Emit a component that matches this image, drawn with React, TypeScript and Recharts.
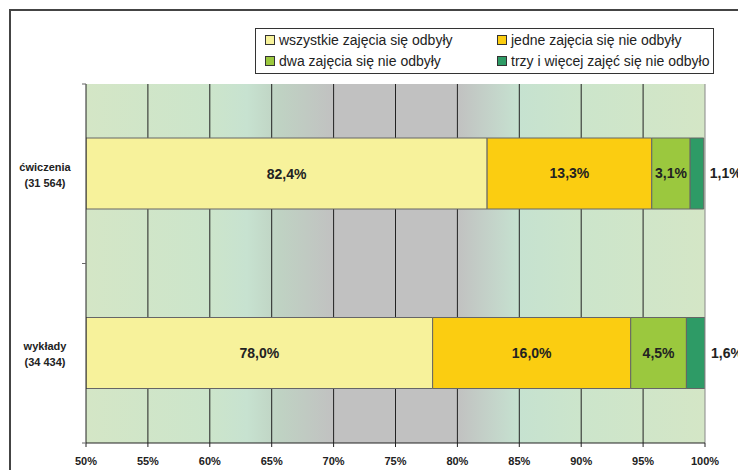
import React from "react";
import {
  BarChart,
  Bar,
  XAxis,
  YAxis,
  CartesianGrid,
  ReferenceLine,
  LabelList,
  Rectangle,
} from "recharts";

const categories = ["ćwiczenia", "wykłady"];
const counts = ["31 564", "34 434"];
const allHeld = [82.4, 78.0];
const oneMissed = [13.3, 16.0];
const twoMissed = [3.1, 4.5];
const threeOrMore = [1.1, 1.6];
const xTicks = [50, 55, 60, 65, 70, 75, 80, 85, 90, 95, 100];
const innerGrid = [55, 60, 65, 70, 75, 80, 85, 90, 95];

const seriesNames = [
  "wszystkie zajęcia się odbyły",
  "jedne zajęcia się nie odbyły",
  "dwa zajęcia się nie odbyły",
  "trzy i więcej zajęć się nie odbyło",
];
const seriesColors = ["#f7f29b", "#fbcd11", "#9bc83e", "#2e9b66"];

const data = categories.map((name, i) => ({
  name,
  count: counts[i],
  all: allHeld[i],
  one: oneMissed[i],
  two: twoMissed[i],
  three: threeOrMore[i],
}));

const FONT = '"Liberation Sans", Arial, Helvetica, sans-serif';
const fmt = (v: any) => `${Number(v).toFixed(1).replace(".", ",")}%`;
const labelStyle = { fontFamily: FONT, fontWeight: "bold", fontSize: 14, fill: "#222" };

// first segment starts at 0 but axis starts at 50 -> centre label in the visible part
function ClampedShape(props: any) {
  const { x, y, width, height, fill, background, payload } = props;
  const left = background ? Math.max(x, background.x) : x;
  const right = x + width;
  return (
    <g>
      <Rectangle x={x} y={y} width={width} height={height} fill={fill} stroke="#666" strokeWidth={1} />
      <text
        x={(left + right) / 2}
        y={y + height / 2}
        textAnchor="middle"
        dominantBaseline="central"
        {...labelStyle}
      >
        {fmt(payload.all)}
      </text>
    </g>
  );
}

function CategoryTick(props: any) {
  const { x, y, payload, index } = props;
  const d = data[index] || data.find((e) => e.name === payload.value);
  const off = payload.offset || 0;
  return (
    <g>
      <line x1={x - 4} x2={x} y1={y - off} y2={y - off} stroke="#666" />
      <line x1={x - 4} x2={x} y1={y + off} y2={y + off} stroke="#666" />
      <text
        x={x - 41}
        y={y}
        textAnchor="middle"
        fontFamily={FONT}
        fontWeight="bold"
        fontSize={11}
        fill="#222"
      >
        <tspan x={x - 41} dy={-3}>{payload.value}</tspan>
        <tspan x={x - 41} dy={16}>({d ? d.count : ""})</tspan>
      </text>
    </g>
  );
}

function LegendBox() {
  return (
    <div
      style={{
        position: "absolute",
        left: 255,
        top: 28,
        width: 459,
        height: 46,
        border: "1px solid #333",
        background: "#fff",
        fontFamily: FONT,
        fontSize: 14,
        color: "#222",
        boxSizing: "border-box",
      }}
    >
      {seriesNames.map((n, i) => (
        <div
          key={n}
          style={{
            position: "absolute",
            left: i % 2 === 0 ? 9 : 241,
            top: i < 2 ? 3 : 24,
            display: "flex",
            alignItems: "center",
            whiteSpace: "nowrap",
          }}
        >
          <span
            style={{
              display: "inline-block",
              width: 8,
              height: 8,
              border: "1px solid #333",
              background: seriesColors[i],
              marginRight: 4,
            }}
          />
          {n}
        </div>
      ))}
    </div>
  );
}

export default function App() {
  return (
    <div
      style={{
        position: "absolute",
        left: 0,
        top: 0,
        width: 738,
        height: 470,
        overflow: "hidden",
        background: "#fff",
      }}
    >
      <div
        style={{
          position: "absolute",
          left: 9,
          top: 9,
          width: 800,
          height: 600,
          border: "2px solid #444",
        }}
      />
      <div style={{ position: "absolute", left: 0, top: 0 }}>
        <BarChart
          width={738}
          height={470}
          layout="vertical"
          data={data}
          margin={{ top: 84, right: 33, bottom: 0, left: 0 }}
          barSize={71}
        >
          <defs>
            <linearGradient id="bgGrad" x1="0" y1="0" x2="1" y2="0">
              <stop offset="0%" stopColor="#d4e6c6" />
              <stop offset="20%" stopColor="#cce5cb" />
              <stop offset="26%" stopColor="#c7e2d0" />
              <stop offset="31%" stopColor="#bfd3c3" />
              <stop offset="40%" stopColor="#c1c1c1" />
              <stop offset="60%" stopColor="#c1c1c1" />
              <stop offset="70%" stopColor="#c6e2d0" />
              <stop offset="80%" stopColor="#cce5cb" />
              <stop offset="100%" stopColor="#d4e6c6" />
            </linearGradient>
          </defs>
          <CartesianGrid
            horizontal={false}
            verticalValues={innerGrid}
            stroke="#222"
            fill="url(#bgGrad)"
            fillOpacity={1}
          />
          <XAxis
            type="number"
            domain={[50, 100]}
            ticks={xTicks}
            allowDataOverflow
            tickFormatter={(v) => `${v}%`}
            tick={{ fontSize: 11, fontWeight: "bold", fill: "#222", fontFamily: FONT }}
            axisLine={{ stroke: "#222" }}
            tickLine={{ stroke: "#222" }}
            tickSize={4}
            tickMargin={10}
            height={27}
          />
          <XAxis
            xAxisId="top"
            orientation="top"
            type="number"
            domain={[50, 100]}
            tick={false}
            tickLine={false}
            axisLine={{ stroke: "#888" }}
            height={0}
          />
          <YAxis
            type="category"
            dataKey="name"
            width={86}
            axisLine={{ stroke: "#222" }}
            tickLine={false}
            tickSize={0}
            tickMargin={0}
            tick={<CategoryTick />}
          />
          <ReferenceLine x={100} stroke="#888" />
          <Bar
            dataKey="all"
            stackId="s"
            fill={seriesColors[0]}
            shape={<ClampedShape />}
            isAnimationActive={false}
          />
          <Bar
            dataKey="one"
            stackId="s"
            fill={seriesColors[1]}
            stroke="#666"
            strokeWidth={1}
            isAnimationActive={false}
          >
            <LabelList dataKey="one" position="center" formatter={fmt} style={labelStyle} />
          </Bar>
          <Bar
            dataKey="two"
            stackId="s"
            fill={seriesColors[2]}
            stroke="#666"
            strokeWidth={1}
            isAnimationActive={false}
          >
            <LabelList dataKey="two" position="center" formatter={fmt} style={labelStyle} />
          </Bar>
          <Bar
            dataKey="three"
            stackId="s"
            fill={seriesColors[3]}
            stroke="#666"
            strokeWidth={1}
            isAnimationActive={false}
          >
            <LabelList dataKey="three" position="right" offset={6} formatter={fmt} style={labelStyle} />
          </Bar>
        </BarChart>
      </div>
      <LegendBox />
    </div>
  );
}
